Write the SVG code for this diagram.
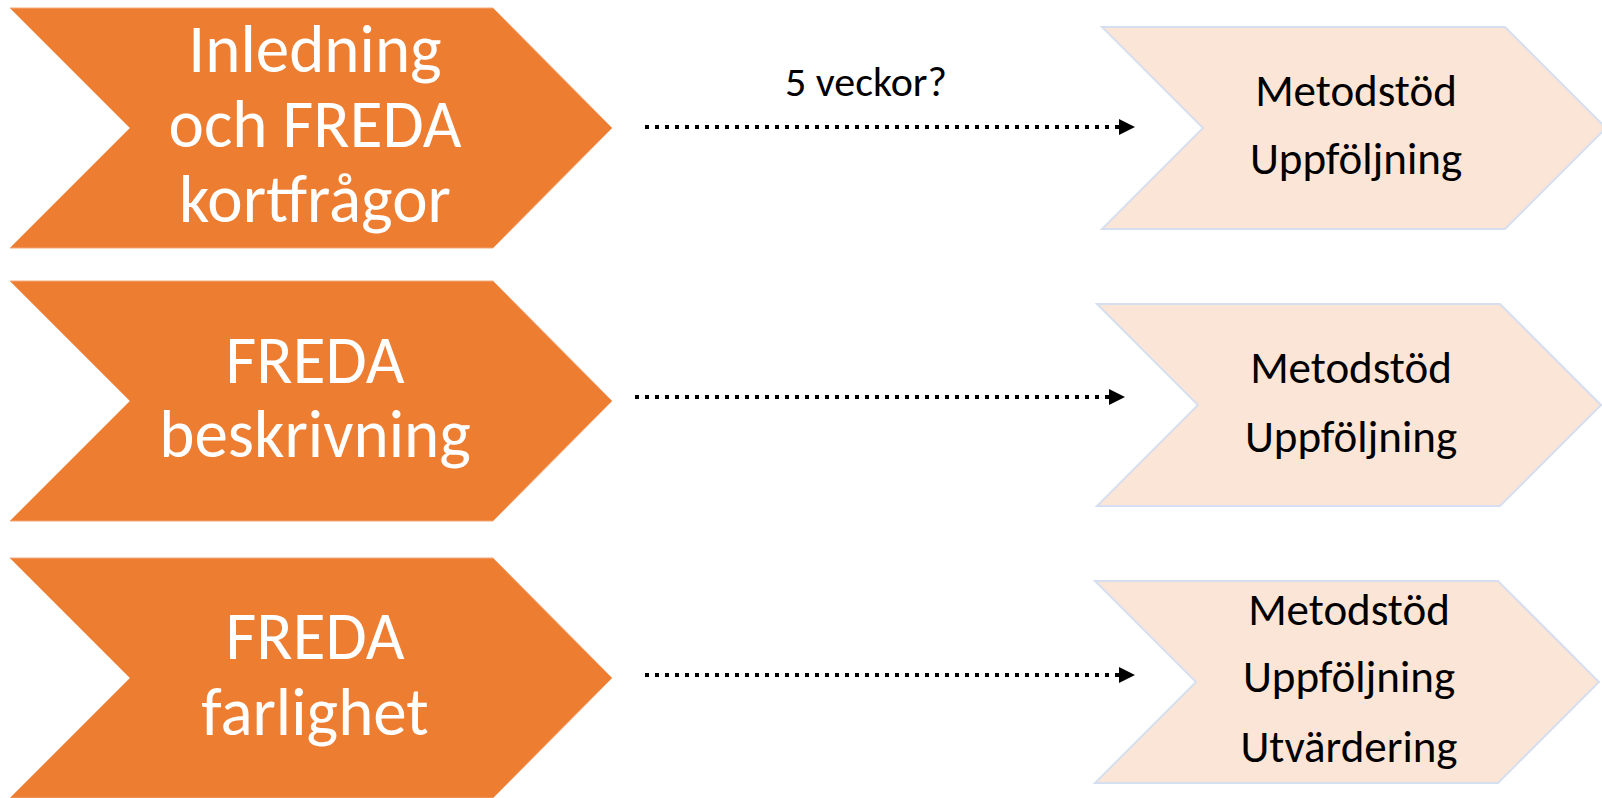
<svg xmlns="http://www.w3.org/2000/svg" width="1602" height="798" viewBox="0 0 1602 798">
  <defs>
    <marker id="arrow" viewBox="0 0 16 16" refX="16" refY="8" markerWidth="16" markerHeight="16" markerUnits="userSpaceOnUse" orient="auto">
      <path d="M0,0 L16,8 L0,16 Z" fill="#000"/>
    </marker>
    <style>
      .step { fill: #ED7D31; stroke: #F4A97A; stroke-width: 1; }
      .goal { fill: #FBE5D6; stroke: #D5DFEF; stroke-width: 2; }
      .wt { fill: #FFFFFF; font-family: Carlito, Calibri, Lato, "Liberation Sans", sans-serif; font-size: 67px; text-anchor: middle; }
      .bt { fill: #000000; font-family: Carlito, Calibri, Lato, "Liberation Sans", sans-serif; font-size: 45px; text-anchor: middle; }
      .lbl { fill: #000000; font-family: Carlito, Calibri, Lato, "Liberation Sans", sans-serif; font-size: 42px; text-anchor: middle; }
      .conn { fill: none; stroke: #000; stroke-width: 4; stroke-dasharray: 4 6; }
    </style>
  </defs>
  <rect width="1602" height="798" fill="#FFFFFF"/>

  <g id="step1">
    <polygon class="step" points="10,8 493,8 612,128 493,248 10,248 130,128"/>
    <text class="wt" x="315" y="72">Inledning</text>
    <text class="wt" x="315" y="147">och FREDA</text>
    <text class="wt" x="315" y="222">kortfrågor</text>
  </g>
  <g id="step2">
    <polygon class="step" points="10,281 493,281 612,401 493,521 10,521 130,401"/>
    <text class="wt" x="315" y="383">FREDA</text>
    <text class="wt" x="315" y="457">beskrivning</text>
  </g>
  <g id="step3">
    <polygon class="step" points="10,558 493,558 612,678 493,798 10,798 130,678"/>
    <text class="wt" x="315" y="659">FREDA</text>
    <text class="wt" x="315" y="735">farlighet</text>
  </g>

  <g id="goal1">
    <polygon class="goal" points="1102,27 1505,27 1606,128 1505,229 1102,229 1203,128"/>
    <text class="bt" x="1356" y="106">Metodstöd</text>
    <text class="bt" x="1356" y="174">Uppföljning</text>
  </g>
  <g id="goal2">
    <polygon class="goal" points="1097,304 1500,304 1601,405 1500,506 1097,506 1198,405"/>
    <text class="bt" x="1351" y="383">Metodstöd</text>
    <text class="bt" x="1351" y="452">Uppföljning</text>
  </g>
  <g id="goal3">
    <polygon class="goal" points="1095,581 1498,581 1599,682 1498,783 1095,783 1196,682"/>
    <text class="bt" x="1349" y="625">Metodstöd</text>
    <text class="bt" x="1349" y="692">Uppföljning</text>
    <text class="bt" x="1349" y="762">Utvärdering</text>
  </g>

  <g id="connectors">
    <line class="conn" x1="645" y1="127" x2="1135" y2="127" marker-end="url(#arrow)"/>
    <line class="conn" x1="635" y1="397" x2="1125" y2="397" marker-end="url(#arrow)"/>
    <line class="conn" x1="645" y1="675" x2="1135" y2="675" marker-end="url(#arrow)"/>
    <text class="lbl" x="866" y="96">5 veckor?</text>
  </g>
</svg>
